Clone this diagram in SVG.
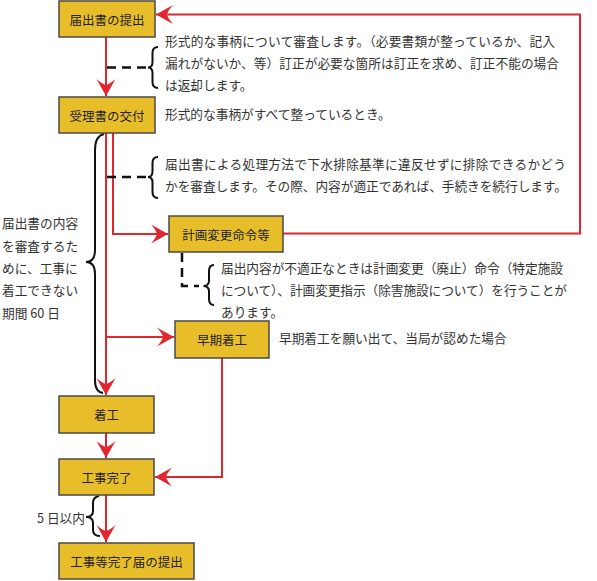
<svg xmlns="http://www.w3.org/2000/svg" width="597" height="581" viewBox="0 0 597 581">
<defs>
<style>
.box{fill:#E8BD2A;stroke:#4a4a4a;stroke-width:1.5}
.lbl{font-family:"Noto Sans CJK JP","Noto Sans",sans-serif;font-size:12.5px;fill:#222;text-anchor:middle;dominant-baseline:central}
.t{font-family:"Noto Sans CJK JP","Noto Sans",sans-serif;font-size:12.7px;fill:#333;dominant-baseline:central}
.red{fill:none;stroke:#E0262E;stroke-width:2}
.dash{fill:none;stroke:#111;stroke-width:2.5;stroke-dasharray:9,6}
.brace{fill:none;stroke:#111;stroke-width:2}
</style>
<marker id="ah" markerUnits="userSpaceOnUse" markerWidth="22" markerHeight="22" viewBox="-18 -11 20 22" refX="0" refY="0" orient="auto">
<path d="M0,0 L-17,-9.5 Q-12,-4 -11,0 Q-12,4 -17,9.5 Z" fill="#E0262E"/>
</marker>
</defs>
<g id="connectors">
<path class="red" d="M106,37 V96" marker-end="url(#ah)"/>
<path class="red" d="M283,233.5 H580 V14.5 H156" marker-end="url(#ah)"/>
<path class="red" d="M113,133 V234 H168" marker-end="url(#ah)"/>
<path class="red" d="M106,133 V395" marker-end="url(#ah)"/>
<path class="red" d="M106,337 H174" marker-end="url(#ah)"/>
<path class="red" d="M222,358 V477 H155" marker-end="url(#ah)"/>
<path class="red" d="M106,433 V458" marker-end="url(#ah)"/>
<path class="red" d="M106,495 V542" marker-end="url(#ah)"/>
<path class="dash" d="M107,67.5 H149"/>
<path class="brace" d="M158,47 Q152.5,47 152.5,53 L152.5,62 Q152.5,67.5 148,67.5 Q152.5,67.5 152.5,73 L152.5,82 Q152.5,88 158,88"/>
<path class="dash" d="M107,177 H150"/>
<path class="brace" d="M158,157 Q152.5,157 152.5,163 L152.5,171.5 Q152.5,177 148,177 Q152.5,177 152.5,182.5 L152.5,192 Q152.5,198 158,198"/>
<path class="dash" d="M182,253 V286 H199"/>
<path class="brace" d="M214,265 Q209,265 209,271 L209,280.5 Q209,286 203.5,286 Q209,286 209,291.5 L209,299 Q209,305 214,305"/>
<path class="brace" d="M104,134 Q95,136 95,150 L95,250 Q95,262 86,262 Q95,262 95,274 L95,380 Q95,392 103,393"/>
<path class="brace" d="M99,496 Q93,497 93,503 L93,511 Q93,517 86,517 Q93,517 93,523 L93,530 Q93,536 100,536"/>
</g>
<g id="n1"><rect class="box" x="59" y="1" width="96" height="36"/><text class="lbl" x="107" y="19">届出書の提出</text></g>
<g id="n2"><rect class="box" x="59" y="97" width="96" height="36"/><text class="lbl" x="107" y="115">受理書の交付</text></g>
<g id="n3"><rect class="box" x="169" y="216" width="114" height="36"/><text class="lbl" x="226" y="234">計画変更命令等</text></g>
<g id="n4"><rect class="box" x="175" y="321" width="94" height="37"/><text class="lbl" x="222" y="339.5">早期着工</text></g>
<g id="n5"><rect class="box" x="59" y="396" width="95" height="37"/><text class="lbl" x="106.5" y="414.5">着工</text></g>
<g id="n6"><rect class="box" x="59" y="459" width="95" height="36"/><text class="lbl" x="106.5" y="477">工事完了</text></g>
<g id="n7"><rect class="box" x="59" y="543" width="135" height="36"/><text class="lbl" x="126.5" y="561">工事等完了届の提出</text></g>
<g id="notes">
<text class="t" x="165" y="40" textLength="390">形式的な事柄について審査します。（必要書類が整っているか、記入</text>
<text class="t" x="165" y="62" textLength="394">漏れがないか、等）訂正が必要な箇所は訂正を求め、訂正不能の場合</text>
<text class="t" x="165" y="84">は返却します。</text>
<text class="t" x="165" y="113">形式的な事柄がすべて整っているとき。</text>
<text class="t" x="165" y="163" textLength="401">届出書による処理方法で下水排除基準に違反せずに排除できるかどう</text>
<text class="t" x="165" y="185" textLength="402">かを審査します。その際、内容が適正であれば、手続きを続行します。</text>
<text class="t" x="221" y="267" textLength="342">届出内容が不適正なときは計画変更（廃止）命令（特定施設</text>
<text class="t" x="221" y="289" textLength="346">について）、計画変更指示（除害施設について）を行うことが</text>
<text class="t" x="221" y="311">あります。</text>
<text class="t" x="279" y="337">早期着工を願い出て、当局が認めた場合</text>
<text class="t" x="2" y="222">届出書の内容</text>
<text class="t" x="2" y="245">を審査するた</text>
<text class="t" x="2" y="267">めに、工事に</text>
<text class="t" x="2" y="289">着工できない</text>
<text class="t" x="2" y="312">期間 60 日</text>
<text class="t" x="37" y="517">5 日以内</text>
</g>
</svg>
